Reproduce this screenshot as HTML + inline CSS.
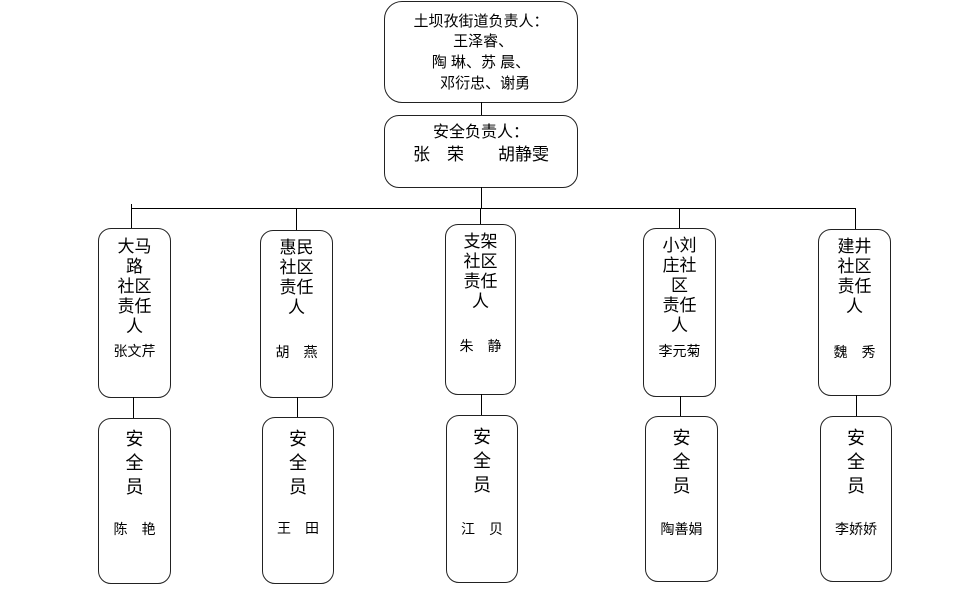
<!DOCTYPE html>
<html><head><meta charset="utf-8"><style>
body{margin:0;width:960px;height:594px;background:#fff;position:relative;overflow:hidden;font-family:"Liberation Sans","Noto Sans CJK SC","WenQuanYi Zen Hei",sans-serif;color:#000}
.b{position:absolute;border:1.3px solid #222;border-radius:13px;box-sizing:border-box}
.t{position:absolute;text-align:center;white-space:pre;line-height:1}
.l{position:absolute;background:#000}
</style></head><body>
<div class="b" style="left:384px;top:1px;width:194px;height:102px;border-radius:18px"></div>
<div class="t" style="left:384px;width:194px;top:14px;font-size:15px">土坝孜街道负责人：</div>
<div class="t" style="left:384px;width:194px;top:34px;font-size:15px"> 王泽睿、</div>
<div class="t" style="left:384px;width:194px;top:55px;font-size:15px">陶 琳、苏 晨、</div>
<div class="t" style="left:384px;width:194px;top:76px;font-size:15px">  邓衍忠、谢勇</div>
<div class="l" style="left:481px;top:102px;width:1px;height:14px"></div>
<div class="b" style="left:384px;top:115px;width:194px;height:73px;border-radius:15px"></div>
<div class="t" style="left:384px;width:194px;top:125px;font-size:16px">安全负责人：</div>
<div class="t" style="left:384px;width:194px;top:146px;font-size:17px">张　荣　　胡静雯</div>
<div class="l" style="left:481px;top:187px;width:1px;height:22px"></div>
<div class="l" style="left:131px;top:208px;width:725px;height:1px"></div>

<div class="l" style="left:131px;top:204px;width:1px;height:25px"></div>
<div class="l" style="left:296px;top:208px;width:1px;height:23px"></div>
<div class="l" style="left:480px;top:208px;width:1px;height:17px"></div>
<div class="l" style="left:679px;top:208px;width:1px;height:21px"></div>
<div class="l" style="left:855px;top:208px;width:1px;height:22px"></div>

<div class="b" style="left:98px;top:228px;width:73px;height:170px"></div>
<div class="t" style="left:98px;width:73px;top:237px;font-size:17px;line-height:20px">大马
路
社区
责任
人</div>
<div class="t" style="left:98px;width:73px;top:344px;font-size:14px">张文芹</div>

<div class="b" style="left:260px;top:230px;width:73px;height:168px"></div>
<div class="t" style="left:260px;width:73px;top:238px;font-size:17px;line-height:20px">惠民
社区
责任
人</div>
<div class="t" style="left:260px;width:73px;top:345px;font-size:14px">胡　燕</div>

<div class="b" style="left:445px;top:224px;width:71px;height:171px"></div>
<div class="t" style="left:445px;width:71px;top:232px;font-size:17px;line-height:20px">支架
社区
责任
人</div>
<div class="t" style="left:445px;width:71px;top:339px;font-size:14px">朱　静</div>

<div class="b" style="left:643px;top:228px;width:73px;height:169px"></div>
<div class="t" style="left:643px;width:73px;top:236px;font-size:17px;line-height:20px">小刘
庄社
区
责任
人</div>
<div class="t" style="left:643px;width:73px;top:344px;font-size:14px">李元菊</div>

<div class="b" style="left:818px;top:229px;width:73px;height:167px"></div>
<div class="t" style="left:818px;width:73px;top:237px;font-size:17px;line-height:20px">建井
社区
责任
人</div>
<div class="t" style="left:818px;width:73px;top:345px;font-size:14px">魏　秀</div>

<div class="l" style="left:133px;top:397px;width:1px;height:22px"></div>
<div class="l" style="left:297px;top:397px;width:1px;height:21px"></div>
<div class="l" style="left:481px;top:394px;width:1px;height:22px"></div>
<div class="l" style="left:680px;top:396px;width:1px;height:21px"></div>
<div class="l" style="left:856px;top:395px;width:1px;height:22px"></div>

<div class="b" style="left:98px;top:418px;width:73px;height:166px"></div>
<div class="t" style="left:98px;width:73px;top:427px;font-size:18px;line-height:24px">安
全
员</div>
<div class="t" style="left:98px;width:73px;top:522px;font-size:14px">陈　艳</div>

<div class="b" style="left:262px;top:417px;width:72px;height:167px"></div>
<div class="t" style="left:262px;width:72px;top:427px;font-size:18px;line-height:24px">安
全
员</div>
<div class="t" style="left:262px;width:72px;top:521px;font-size:14px">王　田</div>

<div class="b" style="left:446px;top:415px;width:72px;height:168px"></div>
<div class="t" style="left:446px;width:72px;top:425px;font-size:18px;line-height:24px">安
全
员</div>
<div class="t" style="left:446px;width:72px;top:522px;font-size:14px">江　贝</div>

<div class="b" style="left:645px;top:416px;width:73px;height:166px"></div>
<div class="t" style="left:645px;width:73px;top:426px;font-size:18px;line-height:24px">安
全
员</div>
<div class="t" style="left:645px;width:73px;top:522px;font-size:14px">陶善娟</div>

<div class="b" style="left:820px;top:416px;width:72px;height:166px"></div>
<div class="t" style="left:820px;width:72px;top:426px;font-size:18px;line-height:24px">安
全
员</div>
<div class="t" style="left:820px;width:72px;top:522px;font-size:14px">李娇娇</div>
</body></html>
